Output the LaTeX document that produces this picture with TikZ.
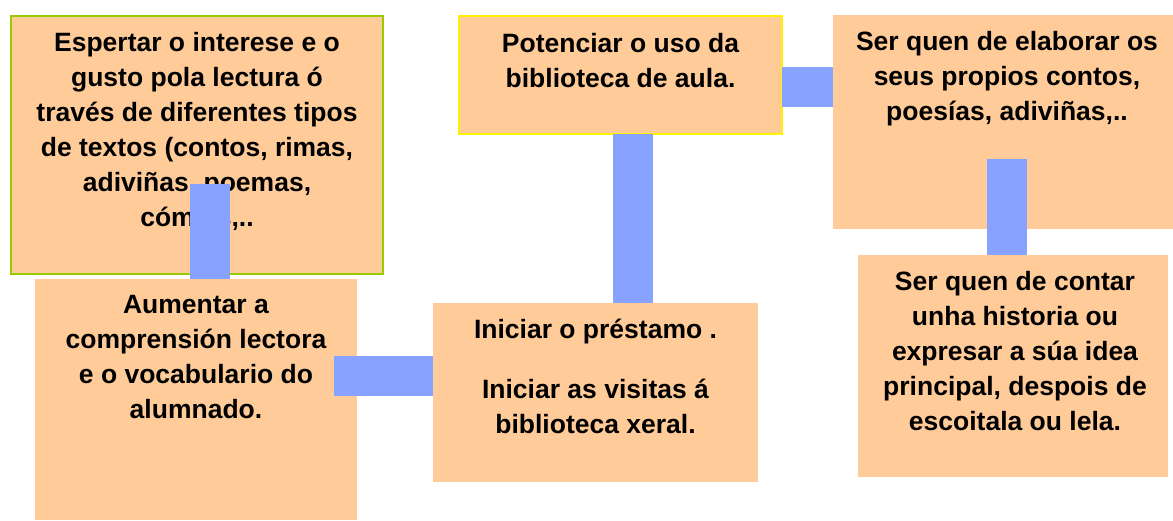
\documentclass[tikz,border=0pt]{standalone}
\usepackage{fontspec}
\setmainfont{Liberation Sans}
\usetikzlibrary{positioning}

\definecolor{peach}{RGB}{255,204,153}
\definecolor{linkblue}{RGB}{136,163,255}
\definecolor{limegreen}{RGB}{153,204,0}
\newcommand\lineup{\rule{0pt}{26pt}}

\begin{document}
\begin{tikzpicture}[x=1pt, y=-1pt,
    box/.style={fill=peach, inner sep=0pt, outer sep=0pt, anchor=north west},
    txt/.style={align=center, inner sep=0pt, font=\fontsize{26.5}{35}\selectfont\bfseries},
    link/.style={draw=linkblue, line width=40pt}]

    \useasboundingbox (0,0) rectangle (1173,520);

    % Boxes
    \node[box, draw=limegreen, line width=2pt, minimum width=372pt, minimum height=258pt] (A) at (11,16) {};
    \node[box, minimum width=322pt, minimum height=241pt] (B) at (35,279) {};
    \node[box, draw=yellow, line width=2pt, minimum width=323pt, minimum height=118pt] (C) at (459,16) {};
    \node[box, minimum width=325pt, minimum height=179pt] (D) at (433,303) {};
    \node[box, minimum width=348pt, minimum height=214pt] (E) at (833,15) {};
    \node[box, minimum width=310pt, minimum height=222pt] (F) at (858,255) {};

    % Texts (first baseline 35pt below the top)
    \node[txt, below=9pt of A.north] (tA) {\lineup Espertar o interese e o\\ gusto pola lectura ó\\ través de diferentes tipos\\ de textos (contos, rimas,\\ adiviñas, poemas,\\ cómics,..};
    \node[txt, below=8pt of B.north] (tB) {\lineup Aumentar a\\ comprensión lectora\\ e o vocabulario do\\ alumnado.};
    \node[txt, below=10pt of C.north] (tC) {\lineup Potenciar o uso da\\ biblioteca de aula.};
    \node[txt, below=9pt of D.north] (tD) {\lineup Iniciar o préstamo .\\[25pt] Iniciar as visitas á\\ biblioteca xeral.};
    \node[txt, below=9pt of E.north] (tE) {\lineup Ser quen de elaborar os\\ seus propios contos,\\ poesías, adiviñas,..};
    \node[txt, below=9pt of F.north, xshift=2pt] (tF) {\lineup Ser quen de contar\\ unha historia ou\\ expresar a súa idea\\ principal, despois de\\ escoitala ou lela.};

    % Connectors
    \coordinate (ab) at (209.5,184);
    \coordinate (cd) at (633,0);
    \coordinate (ce) at (0,87);
    \coordinate (ef) at (1007,159);
    \coordinate (bd) at (334,375.5);
    \draw[link] (ab) -- (ab |- B.north);
    \draw[link] (C.south -| cd) -- (D.north -| cd);
    \draw[link] (C.east |- ce) -- (E.west |- ce);
    \draw[link] (ef) -- (ef |- F.north);
    \draw[link] (bd) -- (bd -| D.west);
\end{tikzpicture}
\end{document}
